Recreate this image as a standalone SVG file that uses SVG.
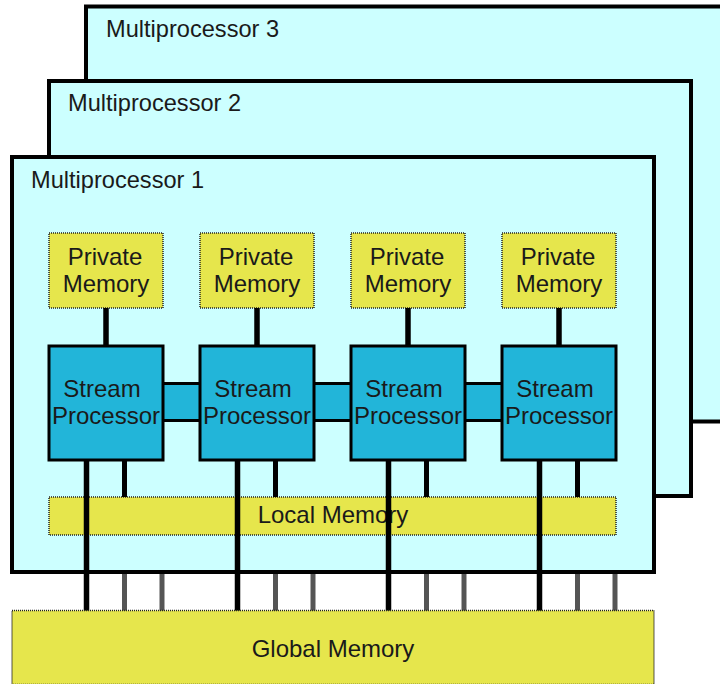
<svg xmlns="http://www.w3.org/2000/svg" width="720" height="684" viewBox="0 0 720 684">
<style>
.mp{fill:#CCFFFF;stroke:#000;stroke-width:4}
.mem{fill:#E6E64C;stroke:#222;stroke-width:1.5;stroke-dasharray:1 1}
.sp{fill:#22B5D9;stroke:#000;stroke-width:3}
.t{font-family:"Liberation Sans",Arial,sans-serif;font-size:24px;fill:#1a1a1a}
.tm{font-family:"Liberation Sans",Arial,sans-serif;font-size:23.6px;fill:#1a1a1a}
.c{text-anchor:middle}
.bk{stroke:#000;stroke-width:5.5;fill:none}
.ln{stroke:#000;stroke-width:5;fill:none}
.gr{stroke:#555;stroke-width:5;fill:none}
.band{fill:#22B5D9;stroke:none}
.bl{stroke:#000;stroke-width:3}
</style>
<g id="mp3"><rect class="mp" x="86" y="6.5" width="642" height="415"/><text class="tm" x="106" y="37">Multiprocessor 3</text></g>
<g id="mp2"><rect class="mp" x="49" y="81" width="642" height="415"/><text class="tm" x="68" y="111">Multiprocessor 2</text></g>
<g id="mp1"><rect class="mp" x="12" y="157" width="642" height="415"/><text class="tm" x="31" y="188">Multiprocessor 1</text></g>

<g id="bands">
<rect class="band" x="163" y="383" width="37" height="38"/>
<rect class="band" x="314" y="383" width="37" height="38"/>
<rect class="band" x="465" y="383" width="37" height="38"/>
<line class="bl" x1="163" y1="383.5" x2="200" y2="383.5"/><line class="bl" x1="163" y1="420.5" x2="200" y2="420.5"/>
<line class="bl" x1="314" y1="383.5" x2="351" y2="383.5"/><line class="bl" x1="314" y1="420.5" x2="351" y2="420.5"/>
<line class="bl" x1="465" y1="383.5" x2="502" y2="383.5"/><line class="bl" x1="465" y1="420.5" x2="502" y2="420.5"/>
</g>

<g id="pm1"><rect class="mem" x="49" y="233" width="114" height="75"/><text class="t c" x="105" y="265">Private</text><text class="t c" x="106" y="292">Memory</text></g>
<g id="pm2"><rect class="mem" x="200" y="233" width="114" height="75"/><text class="t c" x="256" y="265">Private</text><text class="t c" x="257" y="292">Memory</text></g>
<g id="pm3"><rect class="mem" x="351" y="233" width="114" height="75"/><text class="t c" x="407" y="265">Private</text><text class="t c" x="408" y="292">Memory</text></g>
<g id="pm4"><rect class="mem" x="502" y="233" width="114" height="75"/><text class="t c" x="558" y="265">Private</text><text class="t c" x="559" y="292">Memory</text></g>

<g id="sp1"><rect class="sp" x="49" y="346" width="114" height="114"/><text class="t c" x="102" y="397">Stream</text><text class="t c" x="106" y="424">Processor</text></g>
<g id="sp2"><rect class="sp" x="200" y="346" width="114" height="114"/><text class="t c" x="253" y="397">Stream</text><text class="t c" x="257" y="424">Processor</text></g>
<g id="sp3"><rect class="sp" x="351" y="346" width="114" height="114"/><text class="t c" x="404" y="397">Stream</text><text class="t c" x="408" y="424">Processor</text></g>
<g id="sp4"><rect class="sp" x="502" y="346" width="114" height="114"/><text class="t c" x="555" y="397">Stream</text><text class="t c" x="559" y="424">Processor</text></g>

<g id="local"><rect class="mem" x="49" y="497" width="567" height="38"/><text class="t c" x="333" y="523">Local Memory</text></g>

<g id="connectors">
<line class="bk" x1="106" y1="308" x2="106" y2="346"/>
<line class="bk" x1="257" y1="308" x2="257" y2="346"/>
<line class="bk" x1="408" y1="308" x2="408" y2="346"/>
<line class="bk" x1="559" y1="308" x2="559" y2="346"/>
<line class="ln" x1="124.5" y1="460" x2="124.5" y2="497"/>
<line class="ln" x1="275.5" y1="460" x2="275.5" y2="497"/>
<line class="ln" x1="426.5" y1="460" x2="426.5" y2="497"/>
<line class="ln" x1="577.5" y1="460" x2="577.5" y2="497"/>
<line class="gr" x1="124.5" y1="574" x2="124.5" y2="611"/>
<line class="gr" x1="162" y1="574" x2="162" y2="611"/>
<line class="gr" x1="275.5" y1="574" x2="275.5" y2="611"/>
<line class="gr" x1="313" y1="574" x2="313" y2="611"/>
<line class="gr" x1="426.5" y1="574" x2="426.5" y2="611"/>
<line class="gr" x1="464" y1="574" x2="464" y2="611"/>
<line class="gr" x1="577.5" y1="574" x2="577.5" y2="611"/>
<line class="gr" x1="615" y1="574" x2="615" y2="611"/>
<line class="bk" x1="86.5" y1="460" x2="86.5" y2="611"/>
<line class="bk" x1="237.5" y1="460" x2="237.5" y2="611"/>
<line class="bk" x1="388.5" y1="460" x2="388.5" y2="611"/>
<line class="bk" x1="539.5" y1="460" x2="539.5" y2="611"/>
</g>

<g id="global"><rect class="mem" x="12" y="610.5" width="642" height="74"/><text class="t c" x="333" y="657">Global Memory</text></g>
</svg>
